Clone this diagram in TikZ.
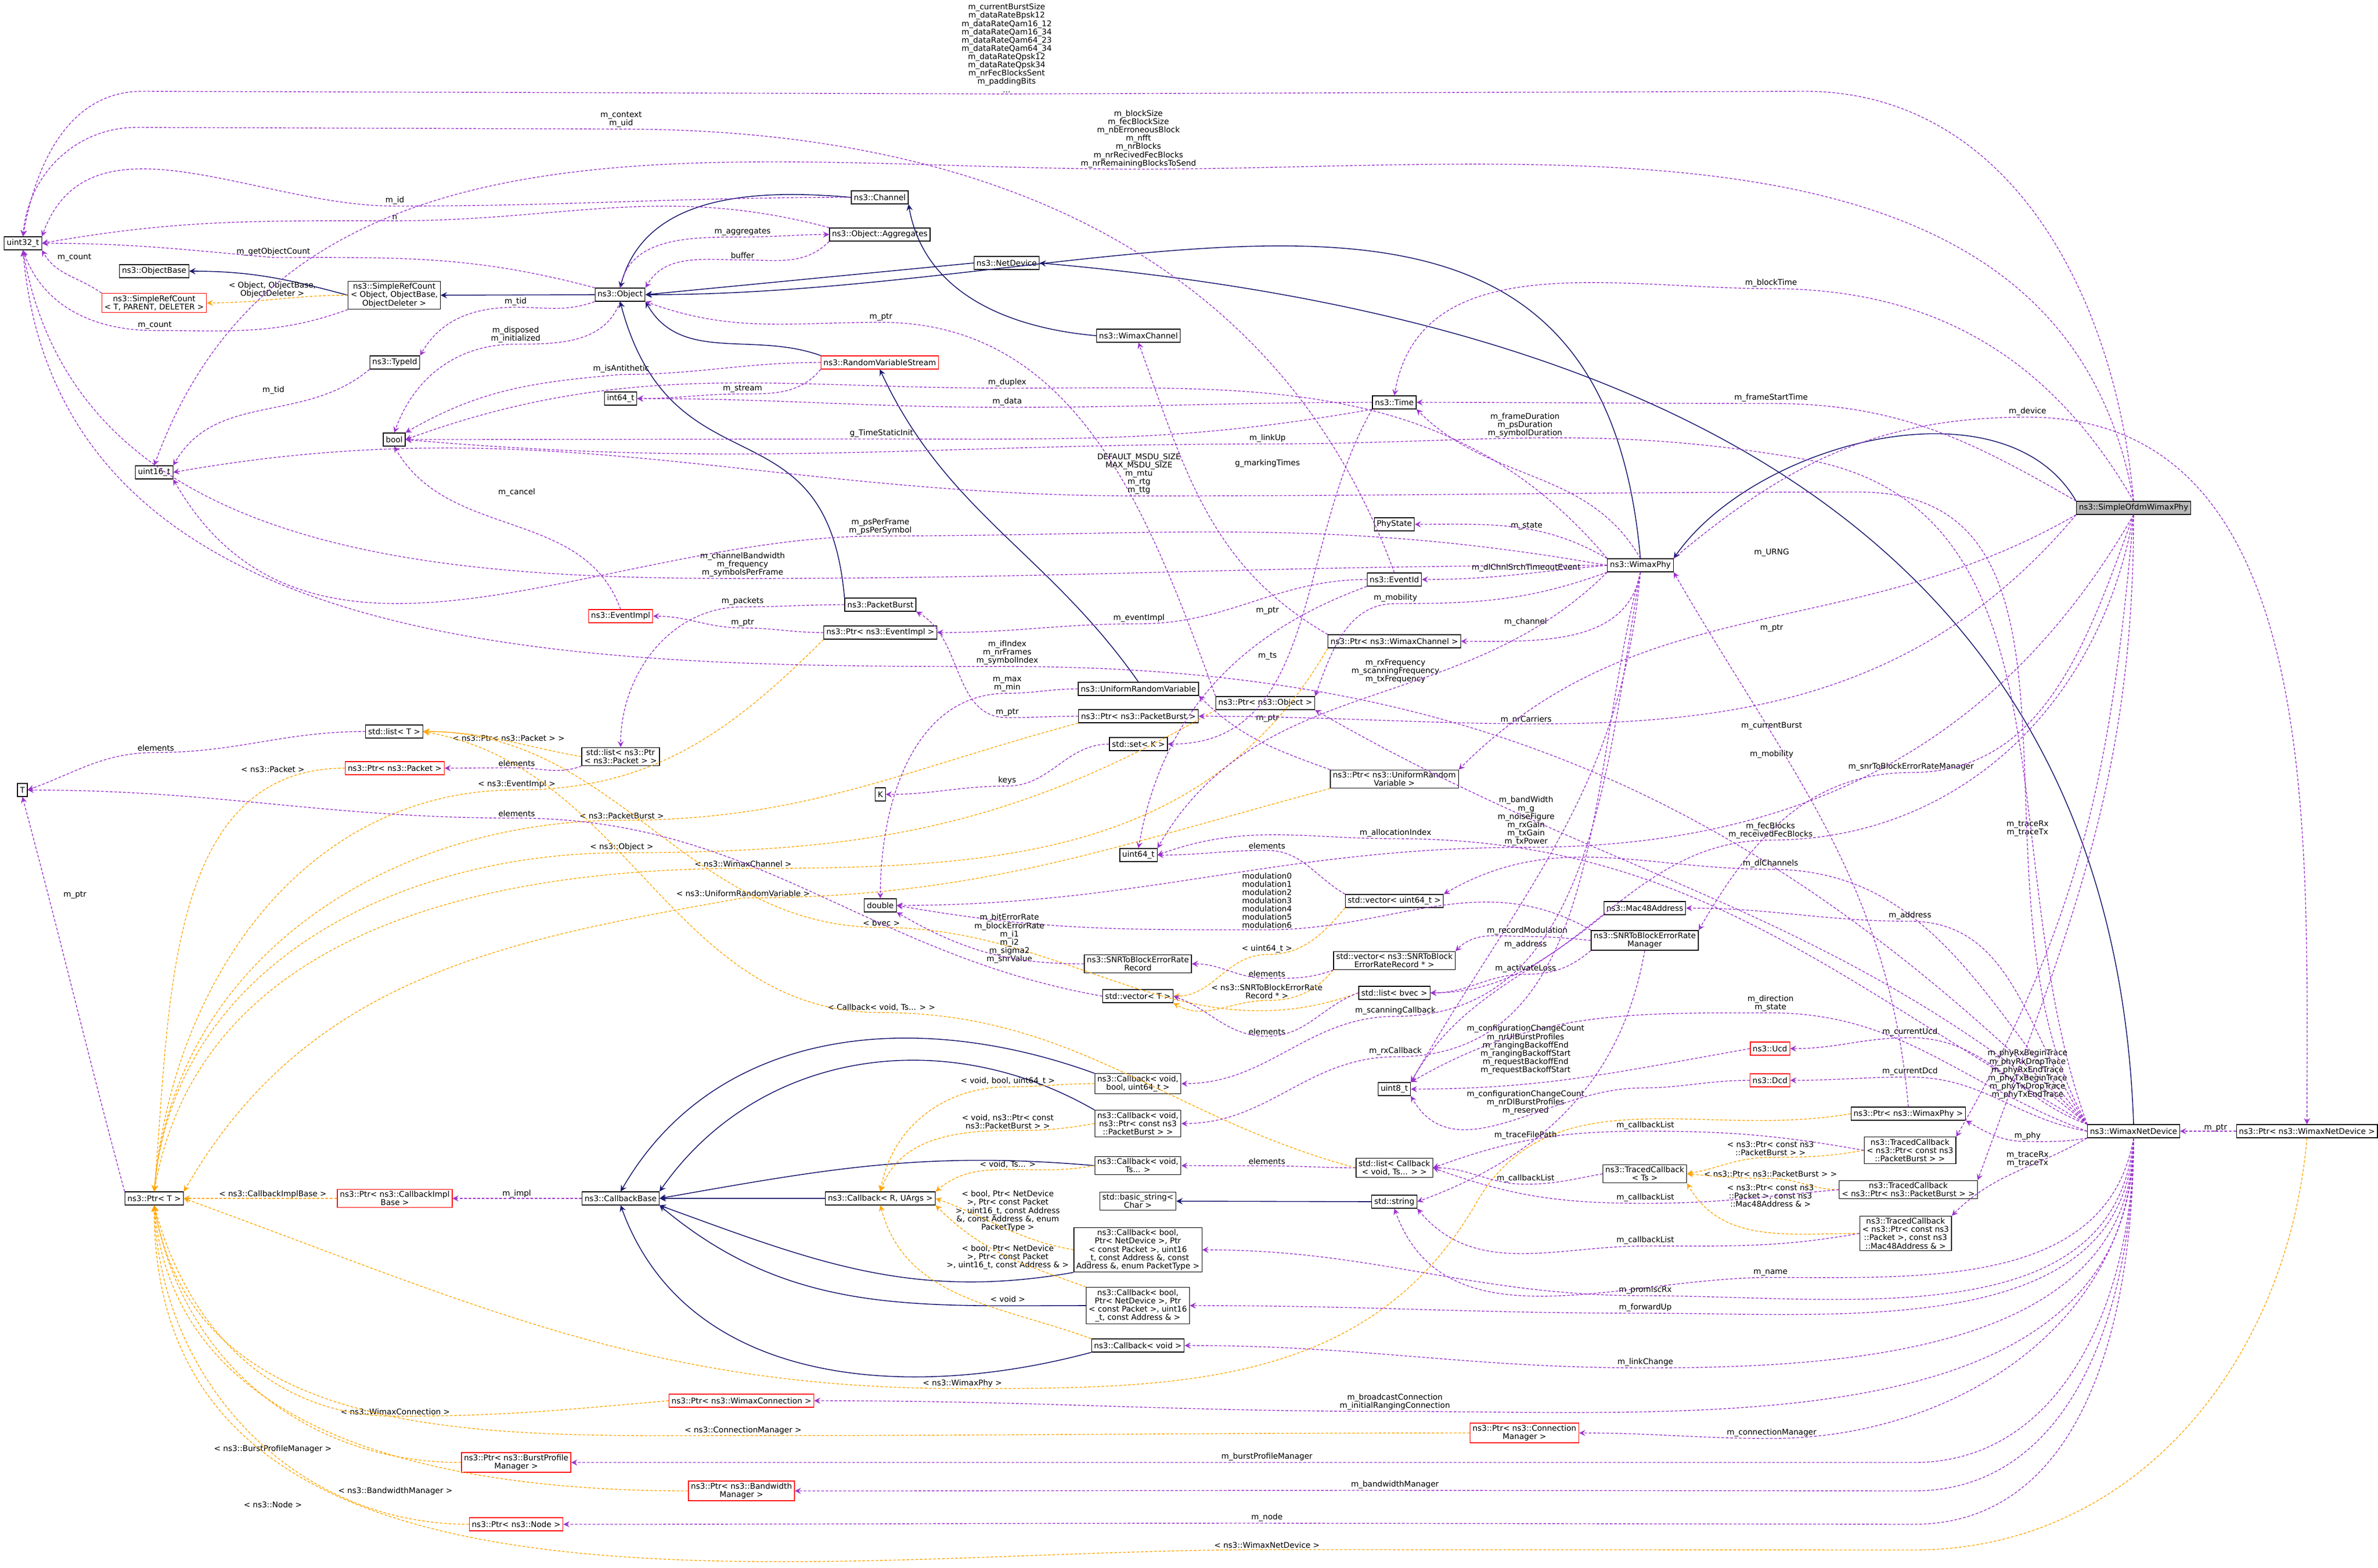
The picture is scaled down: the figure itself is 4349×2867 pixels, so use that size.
\documentclass[tikz,border=0pt]{standalone}
\usepackage{fontspec}
\setmainfont{DejaVu Sans}
\usetikzlibrary{arrows}
\definecolor{inhc}{RGB}{25,25,112}
\definecolor{usec}{RGB}{154,50,205}
\definecolor{tmplc}{RGB}{255,165,0}
\tikzset{
  cls/.style={draw=black, fill=white, line width=0.35pt, inner xsep=1.3pt, inner ysep=1pt, minimum height=0.24cm, align=center},
  redcls/.style={cls, draw=red},
  maincls/.style={cls, fill=gray!55},
  lbl/.style={inner sep=0.6pt, align=center},
  inh/.style={draw=inhc, line width=0.45pt, ->, >=stealth},
  use/.style={draw=usec, line width=0.4pt, dash pattern=on 1.4pt off 0.9pt, ->, >=stealth},
  tmpl/.style={draw=tmplc, line width=0.4pt, dash pattern=on 1.4pt off 0.9pt, ->, >=stealth}
}
\begin{document}
\begin{tikzpicture}[x=0.01cm,y=0.01cm,font=\fontsize{4.1}{4.3}\selectfont]
\useasboundingbox (0,0) rectangle (4349,-2867);

% classes
\node[cls] (u32) at (42,-445) {uint32\_t};
\node[cls] (objbase) at (282,-496) {ns3::ObjectBase};
\node[redcls] (srcT) at (282,-554) {ns3::SimpleRefCount\\< T, PARENT, DELETER >};
\node[cls] (srcO) at (721,-540) {ns3::SimpleRefCount\\< Object, ObjectBase,\\ObjectDeleter >};
\node[cls] (obj) at (1134,-539) {ns3::Object};
\node[cls] (chan) at (1609,-361) {ns3::Channel};
\node[cls] (aggr) at (1609,-429) {ns3::Object::Aggregates};
\node[cls] (netdev) at (1841,-481) {ns3::NetDevice};
\node[cls] (typeid) at (722,-663) {ns3::TypeId};
\node[redcls] (rvs) at (1609,-663) {ns3::RandomVariableStream};
\node[cls] (wchan) at (2082,-614) {ns3::WimaxChannel};
\node[cls] (time) at (2550,-736) {ns3::Time};
\node[cls] (i64) at (1135,-729) {int64\_t};
\node[cls] (bool) at (721,-804) {bool};
\node[cls] (u16) at (282,-864) {uint16\_t};
\node[cls] (phystate) at (2550,-959) {PhyState};
\node[maincls] (sowp) at (3902,-929) {ns3::SimpleOfdmWimaxPhy};
\node[cls] (wphy) at (3000,-1034) {ns3::WimaxPhy};
\node[cls] (eventid) at (2550,-1060) {ns3::EventId};
\node[redcls] (evimpl) at (1135,-1127) {ns3::EventImpl};
\node[cls] (pburst) at (1610,-1106) {ns3::PacketBurst};
\node[cls] (ptrev) at (1610,-1157) {ns3::Ptr< ns3::EventImpl >};
\node[cls] (ptrwch) at (2550,-1173) {ns3::Ptr< ns3::WimaxChannel >};
\node[cls] (urv) at (2082,-1260) {ns3::UniformRandomVariable};
\node[cls] (ptrobj) at (2314,-1286) {ns3::Ptr< ns3::Object >};
\node[cls] (ptrpb) at (2082,-1310) {ns3::Ptr< ns3::PacketBurst >};
\node[cls] (setk) at (2082,-1361) {std::set< K >};
\node[cls] (ptrurv) at (2550,-1425) {ns3::Ptr< ns3::UniformRandom\\Variable >};
\node[cls] (K) at (1610,-1453) {K};
\node[cls] (listT) at (721,-1338) {std::list< T >};
\node[cls] (listpp) at (1135,-1384) {std::list< ns3::Ptr\\< ns3::Packet > >};
\node[redcls] (ptrpkt) at (722,-1405) {ns3::Ptr< ns3::Packet >};
\node[cls] (T) at (41,-1445) {T};
\node[cls] (u64) at (2082,-1564) {uint64\_t};
\node[cls] (vecu64) at (2550,-1648) {std::vector< uint64\_t >};
\node[cls] (dbl) at (1610,-1656) {double};
\node[cls] (mac) at (3008,-1661) {ns3::Mac48Address};
\node[cls] (snrm) at (3008,-1720) {ns3::SNRToBlockErrorRate\\Manager};
\node[cls] (snrr) at (2081,-1763) {ns3::SNRToBlockErrorRate\\Record};
\node[cls] (vecsnr) at (2550,-1757) {std::vector< ns3::SNRToBlock\\ErrorRateRecord * >};
\node[cls] (vecT) at (2081,-1822) {std::vector< T >};
\node[cls] (listbv) at (2550,-1816) {std::list< bvec >};
\node[redcls] (ucd) at (3237,-1918) {ns3::Ucd};
\node[redcls] (dcd) at (3237,-1976) {ns3::Dcd};
\node[cls] (cbvb) at (2081,-1982) {ns3::Callback< void,\\bool, uint64\_t >};
\node[cls] (u8) at (2550,-1992) {uint8\_t};
\node[cls] (cbvp) at (2081,-2055) {ns3::Callback< void,\\ns3::Ptr< const ns3\\::PacketBurst > >};
\node[cls] (ptrwphy) at (3490,-2037) {ns3::Ptr< ns3::WimaxPhy >};
\node[cls] (tcpb) at (3493,-2104) {ns3::TracedCallback\\< ns3::Ptr< const ns3\\::PacketBurst > >};
\node[cls] (cbvt) at (2081,-2132) {ns3::Callback< void,\\Ts... >};
\node[cls] (listcb) at (2550,-2136) {std::list< Callback\\< void, Ts... > >};
\node[cls] (tcts) at (3008,-2147) {ns3::TracedCallback\\< Ts >};
\node[cls] (tcpb2) at (3490,-2176) {ns3::TracedCallback\\< ns3::Ptr< ns3::PacketBurst > >};
\node[cls] (bstr) at (2081,-2197) {std::basic\_string<\\Char >};
\node[cls] (str) at (2550,-2198) {std::string};
\node[cls] (tcpm) at (3485,-2256) {ns3::TracedCallback\\< ns3::Ptr< const ns3\\::Packet >, const ns3\\::Mac48Address \& >};
\node[cls] (cbpt) at (2081,-2286) {ns3::Callback< bool,\\Ptr< NetDevice >, Ptr\\< const Packet >, uint16\\\_t, const Address \&, const\\Address \&, enum PacketType >};
\node[cls] (cbad) at (2081,-2388) {ns3::Callback< bool,\\Ptr< NetDevice >, Ptr\\< const Packet >, uint16\\\_t, const Address \& >};
\node[cls] (cbv) at (2081,-2461) {ns3::Callback< void >};
\node[cls] (ptrT) at (282,-2192) {ns3::Ptr< T >};
\node[redcls] (ptrcib) at (722,-2192) {ns3::Ptr< ns3::CallbackImpl\\Base >};
\node[cls] (cbb) at (1135,-2192) {ns3::CallbackBase};
\node[cls] (cbr) at (1610,-2192) {ns3::Callback< R, UArgs >};
\node[cls] (wnd) at (3902,-2069) {ns3::WimaxNetDevice};
\node[cls] (ptrwnd) at (4219,-2069) {ns3::Ptr< ns3::WimaxNetDevice >};
\node[redcls] (ptrwc) at (1356,-2562) {ns3::Ptr< ns3::WimaxConnection >};
\node[redcls] (ptrcm) at (2788,-2621) {ns3::Ptr< ns3::Connection\\Manager >};
\node[redcls] (ptrbpm) at (944,-2675) {ns3::Ptr< ns3::BurstProfile\\Manager >};
\node[redcls] (ptrbm) at (1356,-2727) {ns3::Ptr< ns3::Bandwidth\\Manager >};
\node[redcls] (ptrnode) at (944,-2788) {ns3::Ptr< ns3::Node >};

% inheritance
\draw[inh] (srcO.west) to[out=165,in=0] (objbase.east);
\draw[inh] (obj.west) -- (srcO.east);
\draw[inh] (chan.west) to[out=175,in=75] (obj.north);
\draw[inh] (netdev.west) -- (obj.east);
\draw[inh] (wchan.west) to[out=175,in=-80] (chan.south east);
\draw[inh] (rvs.north west) to[out=160,in=-60] (obj.south east);
\draw[inh] (pburst.north west) to[out=95,in=-75,looseness=1.4] (obj.south);
\draw[inh] (urv.north) to[out=125,in=-65] (rvs.south);
\draw[inh] (wphy.north) to[out=95,in=0,looseness=1.2] (obj.east);
\draw[inh] (wnd.north) to[out=92,in=-5,looseness=1.1] (netdev.east);
\draw[inh] (sowp.north west) to[out=120,in=55,looseness=0.9] (wphy.north east);
\draw[inh] (cbvb.north west) to[out=160,in=60] (cbb.north);
\draw[inh] (cbvp.north west) to[out=150,in=55] (cbb.north east);
\draw[inh] (cbvt.west) to[out=175,in=10] (cbb.east);
\draw[inh] (cbr.west) -- (cbb.east);
\draw[inh] (cbpt.south west) to[out=190,in=-20] (cbb.south east);
\draw[inh] (cbad.west) to[out=180,in=-40] (cbb.south east);
\draw[inh] (cbv.south west) to[out=195,in=-70] (cbb.south);
\draw[inh] (str.west) -- (bstr.east);

% templates
\node[lbl] (lt1) at (498,-530) {< Object, ObjectBase,\\ObjectDeleter >};
\draw[tmpl] (srcO.west) to[out=180,in=0] (srcT.east);
\node[lbl] (lt2) at (930,-1350) {< ns3::Ptr< ns3::Packet > >};
\draw[tmpl] (listpp.west) to[out=170,in=0] (listT.east);
\node[lbl] (lt3) at (499,-1407) {< ns3::Packet >};
\draw[tmpl] (ptrpkt.west) to[out=180,in=85] (ptrT.north);
\node[lbl] (lt4) at (945,-1435) {< ns3::EventImpl >};
\draw[tmpl] (ptrev.south west) to[out=225,in=0] (lt4.south) to[out=180,in=85] (ptrT.north);
\node[lbl] (lt5) at (1137,-1492) {< ns3::PacketBurst >};
\draw[tmpl] (ptrpb.south west) to[out=195,in=0] (lt5.south) to[out=180,in=85] (ptrT.north);
\node[lbl] (lt6) at (1137,-1550) {< ns3::Object >};
\draw[tmpl] (ptrobj.south west) to[out=210,in=0] (lt6.south) to[out=180,in=85] (ptrT.north);
\node[lbl] (lt7) at (1359,-1580) {< ns3::WimaxChannel >};
\draw[tmpl] (ptrwch.south west) to[out=240,in=0] (lt7.south) to[out=180,in=80] (ptrT.north);
\node[lbl] (lt8) at (1359,-1634) {< ns3::UniformRandomVariable >};
\draw[tmpl] (ptrurv.south west) to[out=195,in=0] (lt8.south) to[out=190,in=60] (ptrT.north east);
\node[lbl] (lt9) at (1612,-1688) {< bvec >};
\draw[tmpl] (listbv.west) to[out=200,in=0] (lt9.south) to[out=180,in=0] (listT.east);
\node[lbl] (lt10) at (1612,-1843) {< Callback< void, Ts... > >};
\draw[tmpl] (listcb.west) to[out=165,in=0] (lt10.south) to[out=180,in=-10] (listT.east);
\node[lbl] (lt11) at (2317,-1736) {< uint64\_t >};
\draw[tmpl] (vecu64.south west) to[out=230,in=0] (lt11.south) to[out=180,in=0] (vecT.east);
\node[lbl] (lt12) at (2317,-1814) {< ns3::SNRToBlockErrorRate\\Record * >};
\draw[tmpl] (vecsnr.south west) to[out=230,in=0] (lt12.south) to[out=180,in=-30] (vecT.south east);
\node[lbl] (lt13) at (499,-2184) {< ns3::CallbackImplBase >};
\draw[tmpl] (ptrcib.west) -- (ptrT.east);
\node[lbl] (lt14) at (1843,-1978) {< void, bool, uint64\_t >};
\draw[tmpl] (cbvb.west) to[out=180,in=0] (lt14.south) to[out=180,in=80] (cbr.north);
\node[lbl] (lt15) at (1843,-2052) {< void, ns3::Ptr< const\\ns3::PacketBurst > >};
\draw[tmpl] (cbvp.west) to[out=190,in=0] (lt15.south) to[out=180,in=70] (cbr.north);
\node[lbl] (lt16) at (1843,-2130) {< void, Ts... >};
\draw[tmpl] (cbvt.west) to[out=190,in=0] (lt16.south) to[out=180,in=40] (cbr.north east);
\node[lbl] (lt17) at (1843,-2215) {< bool, Ptr< NetDevice\\>, Ptr< const Packet\\>, uint16\_t, const Address\\\&, const Address \&, enum\\PacketType >};
\draw[tmpl] (cbpt.west) to[out=170,in=-20] (cbr.east);
\node[lbl] (lt18) at (1843,-2300) {< bool, Ptr< NetDevice\\>, Ptr< const Packet\\>, uint16\_t, const Address \& >};
\draw[tmpl] (cbad.north west) to[out=160,in=-45] (cbr.south east);
\node[lbl] (lt19) at (1843,-2376) {< void >};
\draw[tmpl] (cbv.north west) to[out=160,in=-75] (cbr.south);
\node[lbl] (lt20) at (1760,-2530) {< ns3::WimaxPhy >};
\draw[tmpl] (ptrwphy.west) to[out=190,in=60] (2700,-2200) to[out=240,in=0] (lt20.south) to[out=180,in=-20] (ptrT.east);
\node[lbl] (lt21) at (3238,-2101) {< ns3::Ptr< const ns3\\::PacketBurst > >};
\draw[tmpl] (tcpb.west) to[out=190,in=0] (lt21.south) to[out=180,in=10] (tcts.east);
\node[lbl] (lt22) at (3238,-2147) {< ns3::Ptr< ns3::PacketBurst > >};
\draw[tmpl] (tcpb2.west) to[out=180,in=0] (lt22.south) to[out=180,in=-5] (tcts.east);
\node[lbl] (lt23) at (3238,-2187) {< ns3::Ptr< const ns3\\::Packet >, const ns3\\::Mac48Address \& >};
\draw[tmpl] (tcpm.west) to[out=180,in=-60] (tcts.south east);
\node[lbl] (lt24) at (723,-2582) {< ns3::WimaxConnection >};
\draw[tmpl] (ptrwc.west) to[out=185,in=0] (lt24.south) to[out=180,in=-75] (ptrT.south);
\node[lbl] (lt25) at (1359,-2616) {< ns3::ConnectionManager >};
\draw[tmpl] (ptrcm.west) to[out=180,in=0] (lt25.south) to[out=180,in=-80] (ptrT.south);
\node[lbl] (lt26) at (499,-2650) {< ns3::BurstProfileManager >};
\draw[tmpl] (ptrbpm.west) to[out=180,in=-80] (ptrT.south);
\node[lbl] (lt27) at (723,-2727) {< ns3::BandwidthManager >};
\draw[tmpl] (ptrbm.west) to[out=180,in=-85] (ptrT.south);
\node[lbl] (lt28) at (499,-2752) {< ns3::Node >};
\draw[tmpl] (ptrnode.west) to[out=180,in=-88] (ptrT.south);
\node[lbl] (lt29) at (2317,-2826) {< ns3::WimaxNetDevice >};
\draw[tmpl] (ptrwnd.south) to[out=-95,in=0] (3500,-2835) -- (lt29.south) to[out=180,in=-90] (ptrT.south);

% members
\node[lbl] (l1) at (722,-367) {m\_id};
\draw[use] (chan.west) to[out=180,in=0] (l1.south) to[out=180,in=70] (u32.north east);
\node[lbl] (l2) at (722,-397) {n};
\draw[use] (aggr.north west) to[out=165,in=0] (l2.south) to[out=180,in=10] (u32.east);
\node[lbl] (l3) at (500,-461) {m\_getObjectCount};
\draw[use] (obj.north west) to[out=165,in=0] (l3.south) to[out=175,in=0] (u32.east);
\node[lbl] (l4) at (136,-471) {m\_count};
\draw[use] (srcT.north west) to[out=145,in=-60] (u32.south east);
\node[lbl] (l5) at (283,-595) {m\_count};
\draw[use] (srcO.south west) to[out=200,in=0] (l5.south) to[out=180,in=-70] (u32.south);
\node[lbl] (l6) at (1358,-424) {m\_aggregates};
\draw[use] (obj.north) to[out=80,in=180] (l6.south) to[out=0,in=180] (aggr.west);
\node[lbl] (l7) at (1358,-467) {buffer};
\draw[use] (aggr.south west) to[out=225,in=0] (l7.south) to[out=180,in=60] (obj.north east);
\node[lbl] (l8) at (943,-552) {m\_tid};
\draw[use] (obj.south west) to[out=200,in=0] (l8.south) to[out=180,in=60] (typeid.north east);
\node[lbl] (l9) at (943,-612) {m\_disposed\\m\_initialized};
\draw[use] (obj.south) to[out=-110,in=0] (l9.south) to[out=180,in=70] (bool.north);
\node[lbl] (l10) at (500,-714) {m\_tid};
\draw[use] (typeid.south west) to[out=220,in=60] (u16.north east);
\node[lbl] (l11) at (1136,-675) {m\_isAntithetic};
\draw[use] (rvs.west) to[out=180,in=0] (l11.south) to[out=185,in=30] (bool.north east);
\node[lbl] (l12) at (1358,-711) {m\_stream};
\draw[use] (rvs.south west) to[out=230,in=0] (l12.south) to[out=180,in=0] (i64.east);
\node[lbl] (l13) at (1611,-580) {m\_ptr};
\draw[use] (ptrobj.north west) to[out=110,in=0] (l13.south) to[out=180,in=-20] (obj.south east);
\node[lbl] (l14) at (1842,-700) {m\_duplex};
\draw[use] (wphy.north west) to[out=130,in=0] (l14.south) to[out=180,in=20] (bool.east);
\node[lbl] (l15) at (1842,-735) {m\_data};
\draw[use] (time.west) to[out=180,in=0] (l15.south) to[out=180,in=0] (i64.east);
\node[lbl] (l16) at (1612,-793) {g\_TimeStaticInit};
\draw[use] (time.south west) to[out=190,in=0] (l16.south) to[out=180,in=0] (bool.east);
\node[lbl] (l17) at (2318,-802) {m\_linkUp};
\draw[use] (wnd.north west) to[out=110,in=-10] (3300,-840) to[out=170,in=0] (l17.south) to[out=180,in=-5] (bool.east);
\node[lbl] (l18) at (945,-901) {m\_cancel};
\draw[use] (evimpl.north) to[out=110,in=-60] (bool.south);
\node[lbl] (l18b) at (1610,-963) {m\_psPerFrame\\m\_psPerSymbol};
\draw[use] (wphy.west) to[out=170,in=0] (l18b.south) to[out=180,in=-60] (u16.south east);
\node[lbl] (l19) at (1358,-1033) {m\_channelBandwidth\\m\_frequency\\m\_symbolsPerFrame};
\draw[use] (wphy.west) to[out=180,in=0] (l19.south) to[out=180,in=-80] (u32.south);
\node[lbl] (l20) at (1842,-1194) {m\_ifIndex\\m\_nrFrames\\m\_symbolIndex};
\draw[use] (wnd.north west) to[out=135,in=0] (l20.south) to[out=180,in=-85] (u32.south);
\node[lbl] (l21) at (1841,-88) {m\_currentBurstSize\\m\_dataRateBpsk12\\m\_dataRateQam16\_12\\m\_dataRateQam16\_34\\m\_dataRateQam64\_23\\m\_dataRateQam64\_34\\m\_dataRateQpsk12\\m\_dataRateQpsk34\\m\_nrFecBlocksSent\\m\_paddingBits\\...};
\draw[use] (sowp.north) to[out=95,in=0] (3300,-167) -- (l21.south) -- (260,-167) to[out=180,in=80] (u32.north);
\node[lbl] (l22) at (1136,-219) {m\_context\\m\_uid};
\draw[use] (eventid.north) to[out=110,in=0] (l22.south) -- (250,-233) to[out=180,in=85] (u32.north);
\node[lbl] (l23) at (2082,-254) {m\_blockSize\\m\_fecBlockSize\\m\_nbErroneousBlock\\m\_nfft\\m\_nrBlocks\\m\_nrRecivedFecBlocks\\m\_nrRemainingBlocksToSend};
\draw[use] (sowp.north) to[out=100,in=0] (l23.south) to[out=180,in=70] (u16.north);
\node[lbl] (l24) at (3239,-518) {m\_blockTime};
\draw[use] (sowp.north) to[out=120,in=0] (l24.south) to[out=180,in=80] (time.north);
\node[lbl] (l25) at (3239,-728) {m\_frameStartTime};
\draw[use] (sowp.north west) to[out=150,in=0] (l25.south) to[out=180,in=0] (time.east);
\node[lbl] (l26) at (2789,-778) {m\_frameDuration\\m\_psDuration\\m\_symbolDuration};
\draw[use] (wphy.north) to[out=120,in=-45] (time.south east);
\node[lbl] (l27) at (3708,-753) {m\_device};
\draw[use] (wphy.north east) to[out=40,in=180] (l27.south) to[out=0,in=90] (ptrwnd.north);
\node[lbl] (l28) at (2792,-962) {m\_state};
\draw[use] (wphy.north west) to[out=150,in=0] (phystate.east);
\node[lbl] (l29) at (2318,-848) {g\_markingTimes};
\draw[use] (time.south west) to[out=240,in=0] (setk.east);
\node[lbl] (l30) at (2791,-1039) {m\_dlChnlSrchTimeoutEvent};
\draw[use] (wphy.west) to[out=185,in=0] (eventid.east);
\node[lbl] (l31) at (2318,-1117) {m\_ptr};
\draw[use] (ptrwch.north west) to[out=150,in=-70] (wchan.south);
\node[lbl] (l32) at (2083,-1131) {m\_eventImpl};
\draw[use] (eventid.west) to[out=180,in=0] (l32.south) to[out=180,in=0] (ptrev.east);
\node[lbl] (l33) at (1358,-1139) {m\_ptr};
\draw[use] (ptrev.west) to[out=180,in=0] (l33.south) to[out=180,in=0] (evimpl.east);
\node[lbl] (l34) at (1358,-1100) {m\_packets};
\draw[use] (pburst.west) to[out=180,in=0] (l34.south) to[out=180,in=90] (listpp.north);
\node[lbl] (l35) at (2552,-1094) {m\_mobility};
\draw[use] (wphy.south west) to[out=200,in=0] (l35.south) to[out=180,in=70] (ptrobj.north east);
\node[lbl] (l36) at (2790,-1138) {m\_channel};
\draw[use] (wphy.south) to[out=-100,in=0] (ptrwch.east);
\node[lbl] (l37) at (2318,-1200) {m\_ts};
\draw[use] (eventid.south west) to[out=200,in=80] (u64.north);
\node[lbl] (l38) at (2552,-1228) {m\_rxFrequency\\m\_scanningFrequency\\m\_txFrequency};
\draw[use] (wphy.south west) to[out=225,in=60] (u64.north east);
\node[lbl] (l39) at (1842,-1252) {m\_max\\m\_min};
\draw[use] (urv.west) to[out=180,in=0] (l39.south) to[out=180,in=90] (dbl.north);
\node[lbl] (l40) at (1842,-1303) {m\_ptr};
\draw[use] (ptrpb.west) to[out=180,in=0] (l40.south) to[out=180,in=-30] (pburst.south east);
\node[lbl] (l41) at (2318,-1314) {m\_ptr};
\draw[use] (ptrurv.north west) to[out=160,in=-45] (urv.south east);
\node[lbl] (l42) at (2791,-1317) {m\_nrCarriers};
\draw[use] (wphy.south) to[out=-95,in=60] (u8.north east);
\node[lbl] (l43) at (1842,-1428) {keys};
\draw[use] (setk.west) to[out=180,in=0] (l43.south) to[out=180,in=0] (K.east);
\node[lbl] (l44) at (3240,-1011) {m\_URNG};
\draw[use] (sowp.south west) to[out=210,in=45] (ptrurv.north east);
\node[lbl] (l45) at (3240,-1149) {m\_ptr};
\draw[use] (ptrwphy.north) to[out=95,in=-60] (wphy.south east);
\node[lbl] (l46) at (3240,-1328) {m\_currentBurst};
\draw[use] (sowp.south west) to[out=230,in=0] (ptrpb.east);
\node[lbl] (l47) at (3240,-1380) {m\_mobility};
\draw[use] (wnd.north west) to[out=140,in=-30] (ptrobj.south east);
\node[lbl] (l48) at (2791,-1502) {m\_bandWidth\\m\_g\\m\_noiseFigure\\m\_rxGain\\m\_txGain\\m\_txPower};
\draw[use] (sowp.south) to[out=-120,in=0] (l48.south) to[out=180,in=0] (dbl.east);
\node[lbl] (l49) at (2552,-1524) {m\_allocationIndex};
\draw[use] (wnd.north west) to[out=150,in=0] (l49.south) to[out=180,in=20] (u64.east);
\node[lbl] (l50) at (2317,-1547) {elements};
\draw[use] (vecu64.north west) to[out=150,in=0] (l50.south) to[out=180,in=0] (u64.east);
\node[lbl] (l51) at (3495,-1403) {m\_snrToBlockErrorRateManager};
\draw[use] (sowp.south) to[out=-110,in=0] (l51.south) to[out=180,in=60] (snrm.north east);
\node[lbl] (l52) at (3238,-1519) {m\_fecBlocks\\m\_receivedFecBlocks};
\draw[use] (sowp.south) to[out=-100,in=0] (l52.south) to[out=180,in=0] (listbv.east);
\node[lbl] (l53) at (3238,-1580) {m\_dlChannels};
\draw[use] (wnd.north west) to[out=130,in=0] (l53.south) to[out=180,in=30] (vecu64.north east);
\node[lbl] (l54) at (3493,-1675) {m\_address};
\draw[use] (wnd.north west) to[out=125,in=0] (l54.south) to[out=180,in=0] (mac.east);
\node[lbl] (l55) at (2317,-1647) {modulation0\\modulation1\\modulation2\\modulation3\\modulation4\\modulation5\\modulation6};
\draw[use] (snrm.north west) to[out=150,in=0] (l55.south) to[out=180,in=-10] (dbl.east);
\node[lbl] (l56) at (1846,-1717) {m\_bitErrorRate\\m\_blockErrorRate\\m\_i1\\m\_i2\\m\_sigma2\\m\_snrValue};
\draw[use] (snrr.west) to[out=180,in=-30] (dbl.south east);
\node[lbl] (l57) at (2793,-1703) {m\_recordModulation};
\draw[use] (snrm.west) to[out=175,in=0] (l57.south) to[out=180,in=45] (vecsnr.north east);
\node[lbl] (l58) at (2317,-1781) {elements};
\draw[use] (vecsnr.south west) to[out=200,in=0] (l58.south) to[out=180,in=0] (snrr.east);
\node[lbl] (l59) at (2790,-1728) {m\_address};
\draw[use] (mac.south west) to[out=220,in=60] (u8.north east);
\node[lbl] (l60) at (2790,-1772) {m\_activateLoss};
\draw[use] (snrm.south west) to[out=220,in=0] (l60.south) to[out=180,in=0] (listbv.east);
\node[lbl] (l61) at (2317,-1887) {elements};
\draw[use] (listbv.west) to[out=200,in=0] (l61.south) to[out=180,in=-20] (vecT.east);
\node[lbl] (l62) at (945,-1488) {elements};
\draw[use] (vecT.west) to[out=170,in=0] (l62.south) to[out=180,in=0] (T.east);
\node[lbl] (l63) at (285,-1368) {elements};
\draw[use] (listT.west) to[out=180,in=0] (l63.south) to[out=180,in=20] (T.east);
\node[lbl] (l64) at (945,-1396) {elements};
\draw[use] (listpp.south west) to[out=200,in=0] (l64.south) to[out=180,in=0] (ptrpkt.east);
\node[lbl] (l65) at (137,-1637) {m\_ptr};
\draw[use] (ptrT.north west) to[out=105,in=-75] (T.south);
\node[lbl] (l66) at (2552,-1849) {m\_scanningCallback};
\draw[use] (wphy.south) to[out=-100,in=0] (l66.south) to[out=180,in=0] (cbvb.east);
\node[lbl] (l67) at (2552,-1923) {m\_rxCallback};
\draw[use] (wphy.south) to[out=-105,in=0] (l67.south) to[out=180,in=0] (cbvp.east);
\node[lbl] (l68) at (3238,-1835) {m\_direction\\m\_state};
\draw[use] (wnd.west) to[out=160,in=0] (l68.south) to[out=180,in=30] (u8.north east);
\node[lbl] (l69) at (2790,-1920) {m\_configurationChangeCount\\m\_nrUlBurstProfiles\\m\_rangingBackoffEnd\\m\_rangingBackoffStart\\m\_requestBackoffEnd\\m\_requestBackoffStart};
\draw[use] (ucd.west) to[out=190,in=0] (u8.east);
\node[lbl] (l70) at (2790,-2017) {m\_configurationChangeCount\\m\_nrDlBurstProfiles\\m\_reserved};
\draw[use] (dcd.west) to[out=180,in=0] (3000,-1990) to[out=180,in=-60] (u8.south east);
\node[lbl] (l71) at (3493,-1888) {m\_currentUcd};
\draw[use] (wnd.north west) to[out=160,in=0] (l71.south) to[out=180,in=0] (ucd.east);
\node[lbl] (l72) at (3493,-1960) {m\_currentDcd};
\draw[use] (wnd.west) to[out=170,in=0] (l72.south) to[out=180,in=0] (dcd.east);
\node[lbl] (l73) at (3708,-2078) {m\_phy};
\draw[use] (wnd.south west) to[out=190,in=0] (l73.south) to[out=180,in=-30] (ptrwphy.south east);
\node[lbl] (l74) at (3009,-2059) {m\_callbackList};
\draw[use] (tcpb.west) to[out=170,in=0] (l74.south) to[out=180,in=20] (listcb.east);
\node[lbl] (l75) at (2790,-2156) {m\_callbackList};
\draw[use] (tcts.west) to[out=190,in=0] (l75.south) to[out=180,in=0] (listcb.east);
\node[lbl] (l76) at (3009,-2191) {m\_callbackList};
\draw[use] (tcpb2.west) to[out=185,in=0] (l76.south) to[out=180,in=-20] (listcb.east);
\node[lbl] (l77) at (3009,-2269) {m\_callbackList};
\draw[use] (tcpm.west) to[out=190,in=0] (l77.south) to[out=180,in=-50] (str.south east);
\node[lbl] (l78) at (2317,-2124) {elements};
\draw[use] (listcb.west) to[out=180,in=0] (l78.south) to[out=180,in=0] (cbvt.east);
\node[lbl] (l79) at (2790,-2077) {m\_traceFilePath};
\draw[use] (snrm.south) to[out=-100,in=20] (str.east);
\node[lbl] (l80) at (3708,-1965) {m\_phyRxBeginTrace\\m\_phyRxDropTrace\\m\_phyRxEndTrace\\m\_phyTxBeginTrace\\m\_phyTxDropTrace\\m\_phyTxEndTrace};
\draw[use] (sowp.south) to[out=-95,in=60] (tcpb.north east);
\node[lbl] (l81) at (3708,-1515) {m\_traceRx\\m\_traceTx};
\draw[use] (sowp.south) to[out=-90,in=70] (tcpb2.north east);
\node[lbl] (l82) at (3708,-2120) {m\_traceRx\\m\_traceTx};
\draw[use] (wnd.south west) to[out=210,in=45] (tcpm.north east);
\node[lbl] (l83) at (3238,-2328) {m\_name};
\draw[use] (wnd.south) to[out=-100,in=0] (l83.south) to[out=180,in=-70] (str.south);
\node[lbl] (l84) at (3009,-2360) {m\_promiscRx};
\draw[use] (wnd.south) to[out=-95,in=0] (l84.south) to[out=180,in=0] (cbpt.east);
\node[lbl] (l85) at (3009,-2392) {m\_forwardUp};
\draw[use] (wnd.south) to[out=-92,in=0] (l85.south) to[out=180,in=0] (cbad.east);
\node[lbl] (l86) at (3009,-2492) {m\_linkChange};
\draw[use] (wnd.south) to[out=-90,in=0] (l86.south) to[out=180,in=0] (cbv.east);
\node[lbl] (l87) at (2551,-2564) {m\_broadcastConnection\\m\_initialRangingConnection};
\draw[use] (wnd.south) to[out=-90,in=0] (l87.south) to[out=180,in=0] (ptrwc.east);
\node[lbl] (l88) at (3240,-2621) {m\_connectionManager};
\draw[use] (wnd.south) to[out=-90,in=0] (l88.south) to[out=180,in=0] (ptrcm.east);
\node[lbl] (l89) at (2317,-2665) {m\_burstProfileManager};
\draw[use] (wnd.south) to[out=-90,in=0] (3500,-2675) -- (l89.south) to[out=180,in=0] (ptrbpm.east);
\node[lbl] (l90) at (2551,-2716) {m\_bandwidthManager};
\draw[use] (wnd.south) to[out=-90,in=0] (3500,-2727) -- (l90.south) to[out=180,in=0] (ptrbm.east);
\node[lbl] (l91) at (2317,-2776) {m\_node};
\draw[use] (wnd.south) to[out=-90,in=0] (3500,-2788) -- (l91.south) to[out=180,in=0] (ptrnode.east);
\node[lbl] (l92) at (4052,-2063) {m\_ptr};
\draw[use] (ptrwnd.west) -- (wnd.east);
\node[lbl] (l93) at (945,-2184) {m\_impl};
\draw[use] (cbb.west) -- (ptrcib.east);
\node[lbl] (l94) at (2083,-867) {DEFAULT\_MSDU\_SIZE\\MAX\_MSDU\_SIZE\\m\_mtu\\m\_rtg\\m\_ttg};
\draw[use] (wnd.north west) to[out=120,in=0] (3400,-900) to[out=180,in=0] (l94.south) to[out=180,in=10] (u16.east);
\end{tikzpicture}
\end{document}
